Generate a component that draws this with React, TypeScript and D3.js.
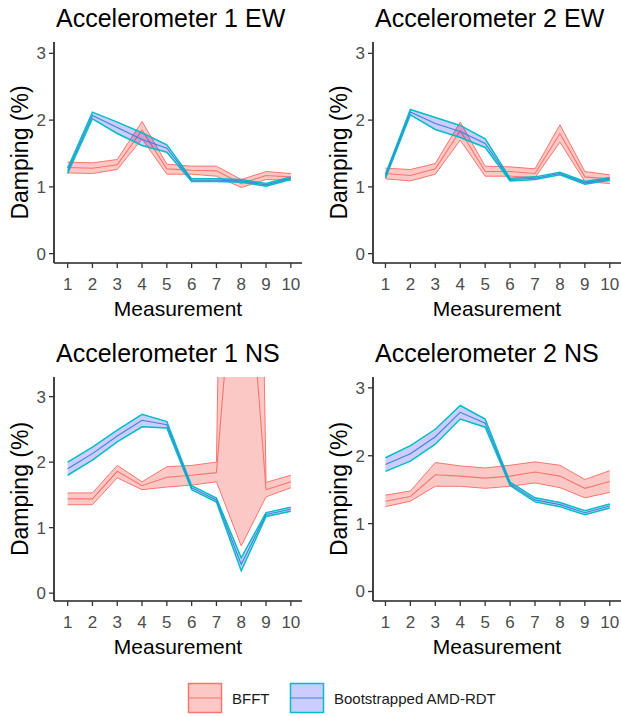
import React from "react"
import * as d3 from "d3"

// measurement index on the x axis
const measurements = [1, 2, 3, 4, 5, 6, 7, 8, 9, 10]
const yTicks = [0, 1, 2, 3]

// Accelerometer 1 EW
const a1ewBfftMid = [1.29, 1.28, 1.33, 1.85, 1.27, 1.25, 1.24, 1.05, 1.17, 1.15]
const a1ewBfftLo = [1.21, 1.2, 1.26, 1.72, 1.19, 1.19, 1.16, 0.99, 1.11, 1.1]
const a1ewBfftHi = [1.37, 1.36, 1.41, 1.98, 1.34, 1.31, 1.31, 1.11, 1.23, 1.2]
const a1ewAmdMid = [1.24, 2.07, 1.89, 1.71, 1.58, 1.1, 1.1, 1.09, 1.03, 1.13]
const a1ewAmdLo = [1.2, 2.02, 1.8, 1.62, 1.52, 1.08, 1.08, 1.07, 1.01, 1.11]
const a1ewAmdHi = [1.28, 2.12, 1.97, 1.81, 1.63, 1.12, 1.12, 1.11, 1.05, 1.15]

// Accelerometer 2 EW
const a2ewBfftMid = [1.2, 1.17, 1.27, 1.84, 1.23, 1.23, 1.2, 1.8, 1.15, 1.12]
const a2ewBfftLo = [1.12, 1.09, 1.19, 1.7, 1.16, 1.16, 1.14, 1.67, 1.08, 1.05]
const a2ewBfftHi = [1.28, 1.26, 1.35, 1.97, 1.31, 1.3, 1.27, 1.93, 1.23, 1.18]
const a2ewAmdMid = [1.16, 2.12, 1.95, 1.83, 1.65, 1.11, 1.13, 1.2, 1.06, 1.12]
const a2ewAmdLo = [1.13, 2.08, 1.86, 1.74, 1.59, 1.09, 1.11, 1.18, 1.04, 1.1]
const a2ewAmdHi = [1.19, 2.16, 2.04, 1.92, 1.72, 1.13, 1.15, 1.22, 1.08, 1.14]

// Accelerometer 1 NS
const a1nsBfftMid = [1.44, 1.44, 1.86, 1.64, 1.77, 1.8, 1.84, 6.5, 1.58, 1.7]
const a1nsBfftLo = [1.35, 1.35, 1.76, 1.58, 1.62, 1.65, 1.7, 0.72, 1.47, 1.61]
const a1nsBfftHi = [1.53, 1.53, 1.95, 1.7, 1.93, 1.95, 2.0, 25, 1.69, 1.8]
const a1nsAmdMid = [1.9, 2.13, 2.4, 2.64, 2.57, 1.61, 1.42, 0.44, 1.2, 1.28]
const a1nsAmdLo = [1.8, 2.03, 2.31, 2.54, 2.52, 1.58, 1.39, 0.34, 1.17, 1.25]
const a1nsAmdHi = [2.0, 2.23, 2.49, 2.73, 2.62, 1.64, 1.45, 0.54, 1.23, 1.31]

// Accelerometer 2 NS
const a2nsBfftMid = [1.33, 1.4, 1.72, 1.7, 1.67, 1.7, 1.76, 1.7, 1.52, 1.62]
const a2nsBfftLo = [1.25, 1.33, 1.55, 1.55, 1.52, 1.55, 1.6, 1.53, 1.38, 1.46]
const a2nsBfftHi = [1.42, 1.48, 1.9, 1.85, 1.82, 1.86, 1.91, 1.86, 1.65, 1.78]
const a2nsAmdMid = [1.87, 2.03, 2.28, 2.64, 2.48, 1.58, 1.35, 1.28, 1.16, 1.26]
const a2nsAmdLo = [1.77, 1.92, 2.17, 2.54, 2.42, 1.56, 1.32, 1.25, 1.13, 1.23]
const a2nsAmdHi = [1.97, 2.15, 2.39, 2.74, 2.54, 1.61, 1.38, 1.31, 1.19, 1.29]

const panels = [
  { title: "Accelerometer 1 EW", col: 0, row: 0, yDomain: [-0.14, 3.17],
    bfft: [a1ewBfftLo, a1ewBfftMid, a1ewBfftHi], amd: [a1ewAmdLo, a1ewAmdMid, a1ewAmdHi] },
  { title: "Accelerometer 2 EW", col: 1, row: 0, yDomain: [-0.14, 3.17],
    bfft: [a2ewBfftLo, a2ewBfftMid, a2ewBfftHi], amd: [a2ewAmdLo, a2ewAmdMid, a2ewAmdHi] },
  { title: "Accelerometer 1 NS", col: 0, row: 1, yDomain: [-0.12, 3.3],
    bfft: [a1nsBfftLo, a1nsBfftMid, a1nsBfftHi], amd: [a1nsAmdLo, a1nsAmdMid, a1nsAmdHi] },
  { title: "Accelerometer 2 NS", col: 1, row: 1, yDomain: [-0.14, 3.16],
    bfft: [a2nsBfftLo, a2nsBfftMid, a2nsBfftHi], amd: [a2nsAmdLo, a2nsAmdMid, a2nsAmdHi] },
]

const colX = [[54, 302], [373, 621]]
const colXDomain = [[0.45, 10.45], [0.5, 10.45]]
const rowY = [[42, 263], [377, 601]]

const font = "'Liberation Sans', Arial, sans-serif"
const red = "#F8766D"
const teal = "#00BFC4"
const blueLine = "#3A86D9"

const Ribbon = ({ lo, mid, hi, x, y, fill, fillOpacity, edge, edgeWidth, centre }) => {
  const area = d3.area().x((d, i) => x(measurements[i])).y0((d, i) => y(lo[i])).y1((d, i) => y(hi[i]))
  const line = d3.line().x((d, i) => x(measurements[i])).y((d) => y(d))
  return (
    <g>
      <path d={area(mid)} fill={fill} fillOpacity={fillOpacity} stroke="none" />
      <path d={line(lo)} fill="none" stroke={edge} strokeWidth={edgeWidth} />
      <path d={line(hi)} fill="none" stroke={edge} strokeWidth={edgeWidth} />
      <path d={line(mid)} fill="none" stroke={centre} strokeWidth={1.1} />
    </g>
  )
}

const Panel = ({ p, idx }) => {
  const [x0, x1] = colX[p.col]
  const [y0, y1] = rowY[p.row]
  const x = d3.scaleLinear().domain(colXDomain[p.col]).range([x0, x1])
  const y = d3.scaleLinear().domain(p.yDomain).range([y1, y0])
  const clip = `clip${idx}`
  return (
    <g>
      <clipPath id={clip}>
        <rect x={x0} y={y0} width={x1 - x0} height={y1 - y0} />
      </clipPath>
      <text x={x0 + 2} y={y0 - 15} fontSize={25} fontFamily={font} fill="#000">{p.title}</text>
      <g clipPath={`url(#${clip})`}>
        <Ribbon lo={p.bfft[0]} mid={p.bfft[1]} hi={p.bfft[2]} x={x} y={y}
          fill={red} fillOpacity={0.4} edge={red} edgeWidth={1} centre={red} />
        <Ribbon lo={p.amd[0]} mid={p.amd[1]} hi={p.amd[2]} x={x} y={y}
          fill="#0000FF" fillOpacity={0.2} edge={teal} edgeWidth={1.5} centre={blueLine} />
      </g>
      <line x1={x0} x2={x0} y1={y0} y2={y1} stroke="#222" strokeWidth={1.7} />
      <line x1={x0} x2={x1} y1={y1} y2={y1} stroke="#222" strokeWidth={1.7} />
      {yTicks.map((t) => (
        <g key={t}>
          <line x1={x0 - 5} x2={x0} y1={y(t)} y2={y(t)} stroke="#333" strokeWidth={1.3} />
          <text x={x0 - 8} y={y(t) + 6} textAnchor="end" fontSize={17} fontFamily={font} fill="#4D4D4D">{t}</text>
        </g>
      ))}
      {measurements.map((m) => (
        <g key={m}>
          <line x1={x(m)} x2={x(m)} y1={y1} y2={y1 + 5} stroke="#333" strokeWidth={1.3} />
          <text x={x(m)} y={y1 + 27} textAnchor="middle" fontSize={17} fontFamily={font} fill="#4D4D4D">{m}</text>
        </g>
      ))}
      <text x={(x0 + x1) / 2} y={y1 + 53} textAnchor="middle" fontSize={21} fontFamily={font} fill="#000">Measurement</text>
      <text transform={`translate(${x0 - 26},${(y0 + y1) / 2}) rotate(-90)`} textAnchor="middle"
        fontSize={23} fontFamily={font} fill="#000">Damping (%)</text>
    </g>
  )
}

const legendItems = [
  { label: "BFFT", fill: red, fillOpacity: 0.4, edge: red, line: red, x: 188 },
  { label: "Bootstrapped AMD-RDT", fill: "#0000FF", fillOpacity: 0.2, edge: teal, line: blueLine, x: 290 },
]

export default function App() {
  return (
    <svg width={621} height={717} style={{ position: "absolute", left: 0, top: 0, background: "#fff" }}>
      {panels.map((p, i) => <Panel key={p.title} p={p} idx={i} />)}
      {legendItems.map((d) => (
        <g key={d.label} transform={`translate(${d.x},683)`}>
          <rect x={0.5} y={0.5} width={33} height={29} fill={d.fill} fillOpacity={d.fillOpacity} stroke={d.edge} strokeWidth={1.5} />
          <line x1={0.5} x2={33.5} y1={15} y2={15} stroke={d.line} strokeWidth={1.2} />
          <text x={44} y={21} fontSize={15} fontFamily={font} fill="#1a1a1a">{d.label}</text>
        </g>
      ))}
    </svg>
  )
}
